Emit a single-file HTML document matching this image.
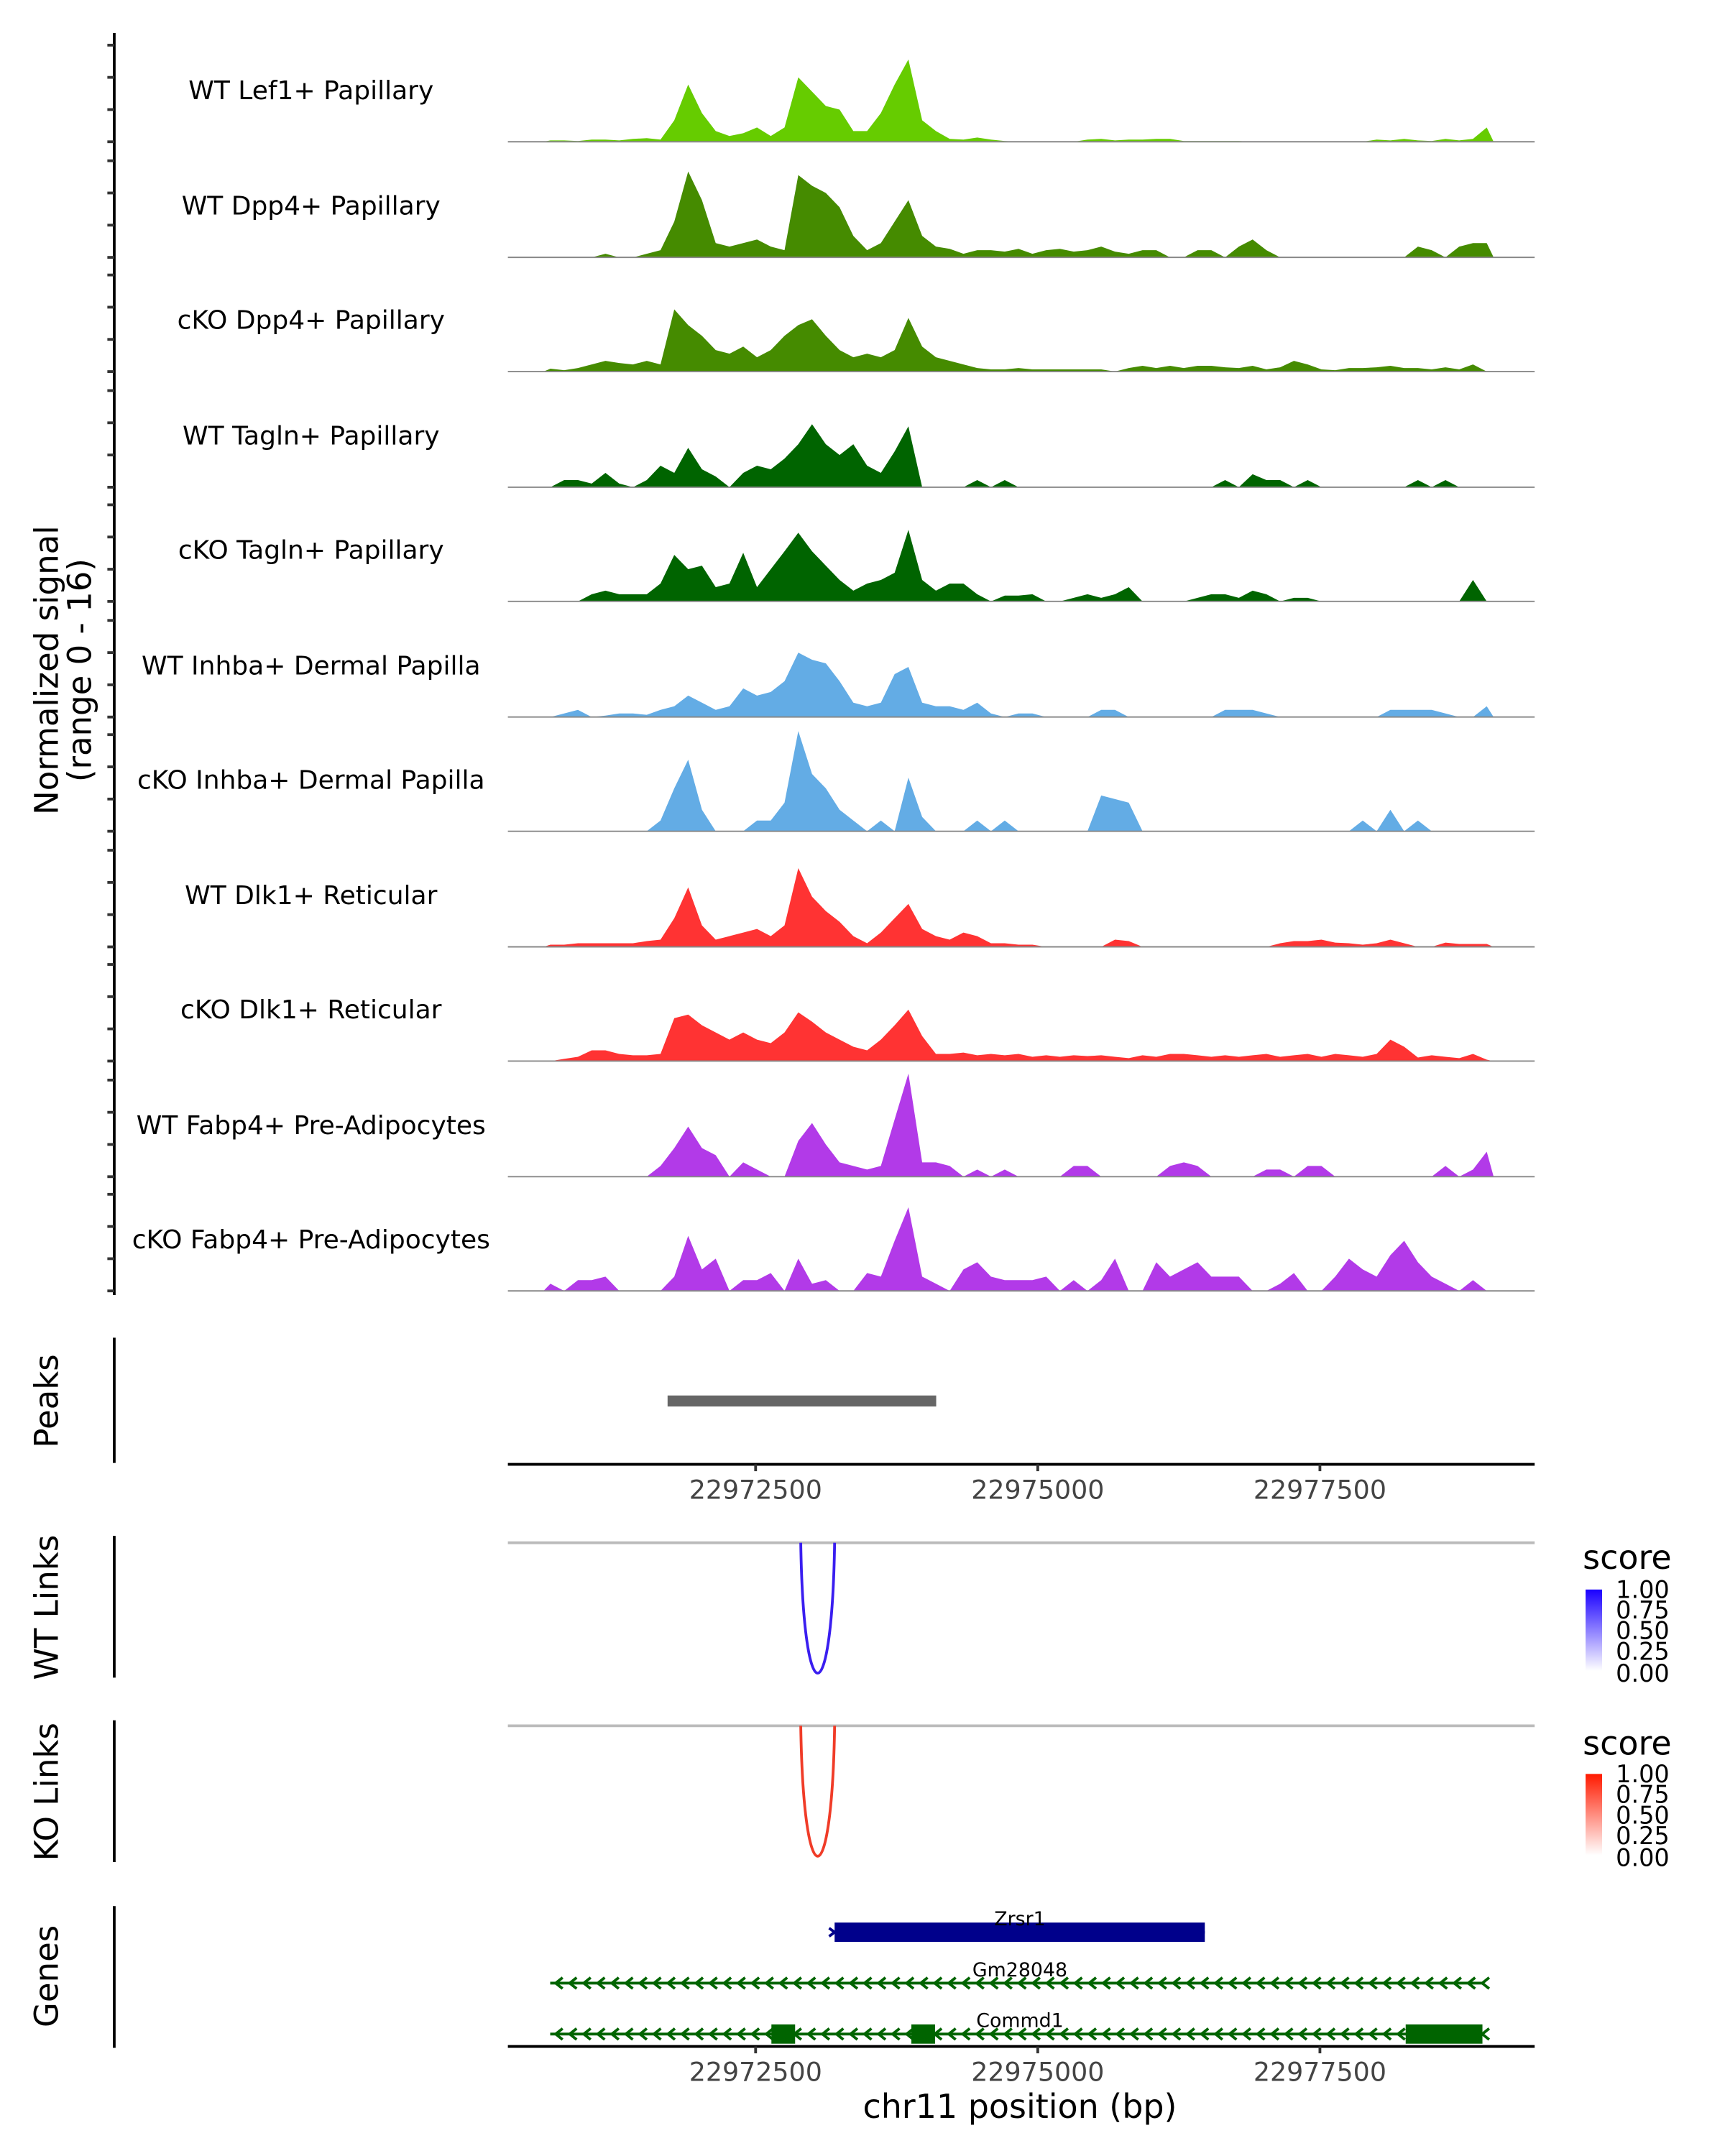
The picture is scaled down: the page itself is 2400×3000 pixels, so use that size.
<!DOCTYPE html>
<html><head><meta charset="utf-8"><style>
html,body{margin:0;padding:0;background:#fff}
svg{display:block}
text{font-family:"DejaVu Sans","Liberation Sans",sans-serif}
</style></head><body>
<svg id="fig" width="2400" height="3000" viewBox="0 0 1253.3 1566.6" xmlns="http://www.w3.org/2000/svg">
<g id="tracks"></g>
<line x1="83" y1="24" x2="83" y2="941" stroke="#000" stroke-width="2"/>
<g id="yticks"></g>
<g font-size="23.5" text-anchor="middle">
<text transform="translate(42,487) rotate(-90)">Normalized signal</text>
<text transform="translate(66,487) rotate(-90)">(range 0 - 16)</text>
</g>
<line x1="83" y1="972" x2="83" y2="1063" stroke="#000" stroke-width="2"/>
<text transform="translate(42,1018) rotate(-90)" font-size="23.5" text-anchor="middle">Peaks</text>
<g id="peaks"></g>
<line x1="369" y1="1064" x2="1115" y2="1064" stroke="#000" stroke-width="2"/>
<g id="xt1"></g>
<line x1="83" y1="1116" x2="83" y2="1219" stroke="#000" stroke-width="2"/>
<text transform="translate(42,1168) rotate(-90)" font-size="23.5" text-anchor="middle">WT Links</text>
<line x1="369" y1="1121" x2="1115" y2="1121" stroke="#bbb" stroke-width="2"/>
<path id="wtarc" fill="none" stroke="#3a1ef0" stroke-width="2"/>
<line x1="83" y1="1250" x2="83" y2="1353" stroke="#000" stroke-width="2"/>
<text transform="translate(42,1302) rotate(-90)" font-size="23.5" text-anchor="middle">KO Links</text>
<line x1="369" y1="1254" x2="1115" y2="1254" stroke="#bbb" stroke-width="2"/>
<path id="koarc" fill="none" stroke="#f03c28" stroke-width="2"/>
<defs>
<linearGradient id="gb" x1="0" y1="1" x2="0" y2="0"><stop offset="0" stop-color="#fff"/><stop offset="1" stop-color="#1a00ff"/></linearGradient>
<linearGradient id="gr" x1="0" y1="1" x2="0" y2="0"><stop offset="0" stop-color="#fff"/><stop offset="1" stop-color="#ff1a00"/></linearGradient>
</defs>
<g font-size="17.5">
<text x="1150" y="1140" font-size="24">score</text>
<rect x="1152" y="1155" width="12" height="59" fill="url(#gb)"/>
<text x="1174" y="1161">1.00</text><text x="1174" y="1176">0.75</text><text x="1174" y="1191">0.50</text><text x="1174" y="1206">0.25</text><text x="1174" y="1222">0.00</text>
</g>
<g font-size="17.5">
<text x="1150" y="1275" font-size="24">score</text>
<rect x="1152" y="1289" width="12" height="59" fill="url(#gr)"/>
<text x="1174" y="1295">1.00</text><text x="1174" y="1310">0.75</text><text x="1174" y="1325">0.50</text><text x="1174" y="1340">0.25</text><text x="1174" y="1356">0.00</text>
</g>
<line x1="83" y1="1385" x2="83" y2="1488" stroke="#000" stroke-width="2"/>
<text transform="translate(42,1436) rotate(-90)" font-size="23.5" text-anchor="middle">Genes</text>
<g id="genes"></g>
<line x1="369" y1="1487" x2="1115" y2="1487" stroke="#000" stroke-width="2"/>
<g id="xt2"></g>
<text x="741" y="1539" font-size="24" text-anchor="middle">chr11 position (bp)</text>
</svg>
<script>
const NS='http://www.w3.org/2000/svg';
const trackNames=["WT Lef1+ Papillary","WT Dpp4+ Papillary","cKO Dpp4+ Papillary","WT Tagln+ Papillary","cKO Tagln+ Papillary","WT Inhba+ Dermal Papilla","cKO Inhba+ Dermal Papilla","WT Dlk1+ Reticular","cKO Dlk1+ Reticular","WT Fabp4+ Pre-Adipocytes","cKO Fabp4+ Pre-Adipocytes"];
const trackColors=["#66cc00","#458b00","#458b00","#006400","#006400","#63ace5","#63ace5","#ff3333","#ff3333","#b23ae8","#b23ae8"];
const binStartBp=22970621;
const binSizeBp=122;
const sigLef1=[0.2,0.2,0.1,0.3,0.3,0.2,0.4,0.5,0.3,3, 8,4,1.5,0.8,1.2,2,0.8,2,9,7, 5,4.5,1.5,1.5,4,8,11.5,3,1.5,0.4, 0.3,0.6,0.3,0.1,0,0,0,0,0,0.3, 0.4,0.2,0.3,0.3,0.4,0.4,0.1,0.1,0.1,0.1, 0.1,0,0,0,0,0,0,0,0,0, 0.3,0.2,0.4,0.2,0.1,0.4,0.2,0.4,2];
const sigWTDpp4=[0,0,0,0,0.5,0,0,0.5,1,5, 12,8,2,1.5,2,2.5,1.5,1,11.5,10, 9,7,3,1,2,5,8,3,1.5,1.2, 0.5,1,1,0.8,1.2,0.5,1,1.2,0.8,1, 1.5,0.8,0.5,1,1,0,0,1,1,0, 1.5,2.5,1,0,0,0,0,0,0,0, 0,0,0,1.5,1,0,1.5,2,2];
const sigKODpp4=[0.4,0.2,0.5,1,1.5,1.2,1,1.5,1,8.7, 6.5,5,3,2.5,3.5,2,3,5,6.5,7.3, 5,3,2,2.5,2,3,7.5,3.5,2,1.5, 1,0.5,0.3,0.3,0.5,0.3,0.3,0.3,0.3,0.3, 0.3,0,0.5,0.8,0.5,0.8,0.5,0.8,0.8,0.6, 0.5,0.8,0.3,0.6,1.5,1,0.3,0.2,0.5,0.5, 0.6,0.8,0.5,0.5,0.3,0.6,0.3,1,0];
const sigWTTagln=[0,1,1,0.5,2,0.5,0,1,3,2, 5.5,2.5,1.5,0,2,3,2.5,4,6,8.8, 6,4.5,6,3,2,5,8.5,0,0,0, 0,1,0,1,0,0,0,0,0,0, 0,0,0,0,0,0,0,0,0,1, 0,1.8,1,1,0,1,0,0,0,0, 0,0,0,1,0,1,0,0,0];
const sigKOTagln=[0,0,0,1,1.5,1,1,1,2.5,6.5, 4.5,5,2,2.5,6.8,2,4.5,7,9.6,7, 5,3,1.5,2.5,3,4,10,3,1.5,2.5, 2.5,1,0,0.8,0.8,1,0,0,0.5,1, 0.5,1,2,0,0,0,0,0.5,1,1, 0.5,1.5,1,0,0.5,0.5,0,0,0,0, 0,0,0,0,0,0,0,3,0];
const sigWTInhba=[0,0.5,1,0,0.2,0.5,0.5,0.3,1,1.5, 3,2,1,1.5,4,3,3.5,5,9,8, 7.5,5,2,1.5,2,6,7,2,1.5,1.5, 1,2,0.5,0,0.5,0.5,0,0,0,0, 1,1,0,0,0,0,0,0,0,1, 1,1,0.5,0,0,0,0,0,0,0, 0,1,1,1,1,0.5,0,0,1.5];
const sigKOInhba=[0,0,0,0,0,0,0,0,1.5,6, 10,3,0,0,0,1.5,1.5,4,14,8, 6,3,1.5,0,1.5,0,7.5,2,0,0, 0,1.5,0,1.5,0,0,0,0,0,0, 5,4.5,4,0,0,0,0,0,0,0, 0,0,0,0,0,0,0,0,0,1.5, 0,3,0,1.5,0,0,0,0,0];
const sigWTDlk1=[0.3,0.3,0.5,0.5,0.5,0.5,0.5,0.8,1,4, 8.3,3,1,1.5,2,2.5,1.5,3,11,7, 5,3.5,1.5,0.5,2,4,6,2.5,1.5,1, 2,1.5,0.5,0.5,0.3,0.3,0,0,0,0, 0,1,0.8,0,0,0,0,0,0,0, 0,0,0,0.5,0.8,0.8,1,0.6,0.5,0.3, 0.5,1,0.5,0,0,0.6,0.4,0.4,0.4];
const sigKODlk1=[0,0.3,0.6,1.5,1.5,1,0.8,0.8,1,6, 6.5,5,4,3,4,3,2.5,4,6.8,5.5, 4,3,2,1.5,3,5,7.2,3.5,1,1, 1.2,0.8,1,0.8,1,0.6,0.8,0.6,0.8,0.7, 0.8,0.6,0.4,0.8,0.6,1,1,0.8,0.6,0.8, 0.6,0.8,1,0.6,0.8,1,0.6,1,0.8,0.6, 1,3,2,0.5,0.8,0.6,0.4,1,0.2];
const sigWTFabp4=[0,0,0,0,0,0,0,0,1.5,4, 7,4,3,0,2,1,0,0,5,7.5, 4.5,2,1.5,1,1.5,8,14.4,2,2,1.5, 0,1,0,1,0,0,0,0,1.5,1.5, 0,0,0,0,0,1.5,2,1.5,0,0, 0,0,1,1,0,1.5,1.5,0,0,0, 0,0,0,0,0,1.5,0,1,3.5];
const sigKOFabp4=[1,0,1.5,1.5,2,0,0,0,0,2, 7.7,3,4.5,0,1.5,1.5,2.5,0,4.5,1, 1.5,0,0,2.5,2,7,11.7,2,1,0, 3,4,2,1.5,1.5,1.5,2,0,1.5,0, 1.5,4.5,0,0,4,2,3,4,2,2, 2,0,0,1,2.5,0,0,2,4.5,3, 2,5,7,4,2,1,0,1.5,0];
const signals=[sigLef1,sigWTDpp4,sigKODpp4,sigWTTagln,sigKOTagln,sigWTInhba,sigKOInhba,sigWTDlk1,sigKODlk1,sigWTFabp4,sigKOFabp4];
const yTickValues=[0,4.5,9,13.5];
const xTickValues=[22972500,22975000,22977500];
const peakStart=22971720, peakEnd=22974100;
const wtLink=[22972900,22973200], wtLinkScore=1.0;
const koLink=[22972900,22973200], koLinkScore=1.0;
const genes=[
 {name:"Zrsr1",start:22973200,end:22976480,strand:"+",color:"#00008b",exons:[[22973200,22976480]],row:0},
 {name:"Gm28048",start:22970680,end:22978940,strand:"-",color:"#006400",exons:[],row:1},
 {name:"Commd1",start:22970680,end:22978940,strand:"-",color:"#006400",exons:[[22972640,22972850],[22973880,22974090],[22978260,22978940]],row:2}
];
const X0=369, BP0=22970305, PXPB=205/2500;
function xs(bp){return X0+(bp-BP0)*PXPB;}
const baselines=[103,187,270,354,437,521,604,688,771,855,938];
const PXU=5.2;
function el(tag,attrs,parent){const e=document.createElementNS(NS,tag);for(const k in attrs)e.setAttribute(k,attrs[k]);parent.appendChild(e);return e;}
const tg=document.getElementById('tracks');
signals.forEach((arr,t)=>{
  const b=baselines[t];
  const xc=i=>xs(binStartBp+(i+0.5)*binSizeBp);
  let d='M'+xs(binStartBp).toFixed(1)+','+b;
  arr.forEach((v,i)=>{d+=' L'+xc(i).toFixed(1)+','+(b-v*PXU).toFixed(1);});
  d+=' L'+xs(binStartBp+arr.length*binSizeBp).toFixed(1)+','+b+' Z';
  const p=el('path',{d:d,fill:trackColors[t]},tg);
  
  
  const bl=el('line',{x1:369,x2:1115,y1:b,y2:b,stroke:'#888','stroke-width':1},tg);
  
  
  const lb=el('text',{x:226,y:b-31,'font-size':18.8,'text-anchor':'middle'},tg);
  lb.textContent=trackNames[t];
  
  
});
const yt=document.getElementById('yticks');
baselines.forEach(b=>{yTickValues.forEach(v=>{const y=b-v*PXU;const l=el('line',{x1:78,x2:83,y1:y,y2:y,stroke:'#333','stroke-width':2},yt);
  
  });});
const pk=el('rect',{x:xs(peakStart),y:1014,width:xs(peakEnd)-xs(peakStart),height:8,fill:'#666'},document.getElementById('peaks'));


function xticks(gid,ya,yl){const g=document.getElementById(gid);xTickValues.forEach(v=>{const x=xs(v);
  const l=el('line',{x1:x,x2:x,y1:ya,y2:ya+5,stroke:'#333','stroke-width':2},g);
  
  
  const t=el('text',{x:x,y:yl,'font-size':19,'text-anchor':'middle',fill:'#444'},g);t.textContent=String(v);
  
  });}
xticks('xt1',1064,1089);xticks('xt2',1487,1512);
function arc(id,link,score,y0){const a=xs(link[0]),b=xs(link[1]),depth=95*score;
  document.getElementById(id).setAttribute('d',`M${a},${y0} C${a+2},${y0+depth*1.33} ${b-2},${y0+depth*1.33} ${b},${y0}`);}
arc('wtarc',wtLink,wtLinkScore,1121);arc('koarc',koLink,koLinkScore,1254);
const gg=document.getElementById('genes');const rowY=[1404,1441,1478];
genes.forEach(g=>{const y=rowY[g.row],x1=xs(g.start),x2=xs(g.end);
  const ln=el('line',{x1:x1,x2:x2,y1:y,y2:y,stroke:g.color,'stroke-width':2},gg);
  
  
  if(g.strand==='-'){let s='';for(let x=x1+4;x<x2;x+=10.2){s+=`M${x+5},${y-4} L${x},${y} L${x+5},${y+4} `;}
    const ar=el('path',{d:s,fill:'none',stroke:g.color,'stroke-width':2},gg);
    
    }
  else{const ar=el('path',{d:`M${x1-4},${y-3} L${x1},${y} L${x1-4},${y+3}`,fill:'none',stroke:g.color,'stroke-width':2},gg);
    
    }
  g.exons.forEach(e=>{const r=el('rect',{x:xs(e[0]),y:y-7,width:xs(e[1])-xs(e[0]),height:14,fill:g.color},gg);
    
    });
  const t=el('text',{x:741,y:y-5,'font-size':14,'text-anchor':'middle'},gg);t.textContent=g.name;
  
  
});
</script>
</body></html>
